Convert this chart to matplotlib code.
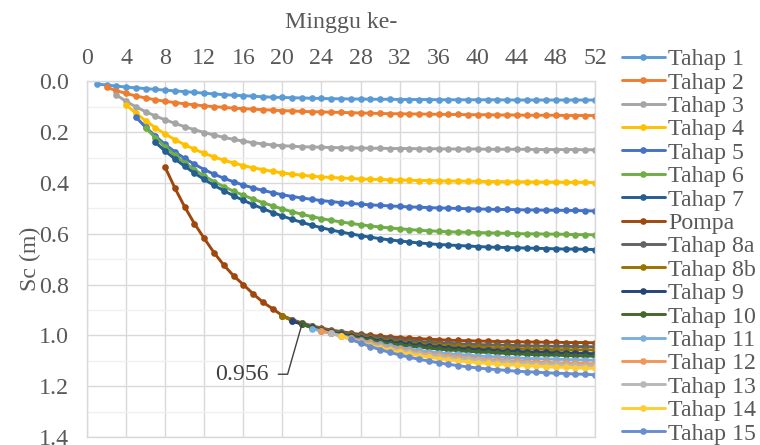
import matplotlib
matplotlib.use("Agg")
import matplotlib.pyplot as plt
import numpy as np

plt.rcParams['font.family'] = ['Liberation Serif', 'DejaVu Serif']

# Settlement Sc (m) per week for each stage; first value belongs to the start week
names = ["Tahap 1", "Tahap 2", "Tahap 3", "Tahap 4", "Tahap 5", "Tahap 6", "Tahap 7",
         "Pompa", "Tahap 8a", "Tahap 8b", "Tahap 9", "Tahap 10", "Tahap 11",
         "Tahap 12", "Tahap 13", "Tahap 14", "Tahap 15"]
start_weeks = [1, 2, 3, 4, 5, 6, 7, 8, 20, 20, 21, 22, 23, 24, 25, 26, 27]

tahap_1 = [0.010, 0.014, 0.018, 0.022, 0.025, 0.028, 0.031, 0.034, 0.037, 0.040,
           0.043, 0.046, 0.049, 0.052, 0.054, 0.056, 0.058, 0.060, 0.062, 0.063,
           0.064, 0.065, 0.066, 0.067, 0.068, 0.068, 0.069, 0.069, 0.070, 0.070,
           0.070, 0.071, 0.071, 0.071, 0.071, 0.072, 0.072, 0.072, 0.072, 0.072,
           0.072, 0.072, 0.073, 0.073, 0.073, 0.073, 0.073, 0.073, 0.073, 0.073,
           0.073, 0.073]
tahap_2 = [0.023, 0.036, 0.047, 0.057, 0.065, 0.072, 0.078, 0.083, 0.088, 0.092,
           0.096, 0.099, 0.102, 0.105, 0.107, 0.109, 0.111, 0.113, 0.115, 0.116,
           0.118, 0.119, 0.120, 0.121, 0.122, 0.123, 0.124, 0.125, 0.126, 0.127,
           0.127, 0.128, 0.128, 0.129, 0.129, 0.130, 0.130, 0.131, 0.131, 0.131,
           0.132, 0.132, 0.132, 0.133, 0.133, 0.133, 0.133, 0.134, 0.134, 0.134,
           0.134]
tahap_3 = [0.053, 0.078, 0.100, 0.119, 0.136, 0.151, 0.165, 0.178, 0.190, 0.201,
           0.211, 0.220, 0.228, 0.235, 0.241, 0.246, 0.250, 0.253, 0.255, 0.257,
           0.258, 0.259, 0.260, 0.261, 0.262, 0.262, 0.263, 0.263, 0.264, 0.264,
           0.264, 0.265, 0.265, 0.265, 0.266, 0.266, 0.266, 0.266, 0.267, 0.267,
           0.267, 0.267, 0.267, 0.268, 0.268, 0.268, 0.268, 0.268, 0.269, 0.269]
tahap_4 = [0.092, 0.125, 0.155, 0.182, 0.207, 0.229, 0.249, 0.267, 0.283, 0.297,
           0.310, 0.321, 0.331, 0.340, 0.347, 0.354, 0.360, 0.365, 0.369, 0.373,
           0.376, 0.378, 0.380, 0.382, 0.384, 0.385, 0.386, 0.387, 0.388, 0.389,
           0.390, 0.390, 0.391, 0.392, 0.392, 0.393, 0.393, 0.394, 0.394, 0.395,
           0.395, 0.395, 0.396, 0.396, 0.396, 0.397, 0.397, 0.397, 0.398]
tahap_5 = [0.140, 0.180, 0.215, 0.248, 0.277, 0.303, 0.326, 0.347, 0.365, 0.381,
           0.395, 0.408, 0.419, 0.429, 0.438, 0.446, 0.453, 0.459, 0.464, 0.469,
           0.473, 0.477, 0.480, 0.483, 0.486, 0.488, 0.490, 0.492, 0.494, 0.495,
           0.497, 0.498, 0.499, 0.500, 0.501, 0.502, 0.503, 0.504, 0.504, 0.505,
           0.506, 0.506, 0.507, 0.507, 0.508, 0.508, 0.509, 0.510]
tahap_6 = [0.183, 0.222, 0.257, 0.290, 0.320, 0.347, 0.372, 0.394, 0.414, 0.432,
           0.448, 0.463, 0.477, 0.490, 0.502, 0.513, 0.523, 0.532, 0.540, 0.547,
           0.553, 0.559, 0.564, 0.569, 0.573, 0.577, 0.580, 0.583, 0.586, 0.588,
           0.590, 0.592, 0.593, 0.594, 0.595, 0.596, 0.597, 0.598, 0.599, 0.600,
           0.600, 0.601, 0.601, 0.602, 0.603, 0.603, 0.604]
tahap_7 = [0.240, 0.274, 0.305, 0.334, 0.361, 0.386, 0.409, 0.430, 0.450, 0.468,
           0.485, 0.501, 0.516, 0.530, 0.543, 0.555, 0.566, 0.576, 0.585, 0.593,
           0.600, 0.607, 0.613, 0.619, 0.624, 0.628, 0.632, 0.636, 0.639, 0.642,
           0.644, 0.646, 0.648, 0.650, 0.652, 0.653, 0.654, 0.655, 0.656, 0.657,
           0.658, 0.659, 0.660, 0.660, 0.661, 0.662]
pompa = [0.338, 0.420, 0.494, 0.560, 0.618, 0.674, 0.723, 0.765, 0.800, 0.836,
         0.869, 0.895, 0.922, 0.938, 0.951, 0.962, 0.971, 0.979, 0.985, 0.991,
         0.996, 1.000, 1.003, 1.006, 1.009, 1.011, 1.013, 1.015, 1.017, 1.019,
         1.020, 1.021, 1.022, 1.023, 1.024, 1.025, 1.025, 1.026, 1.026, 1.027,
         1.027, 1.028, 1.028, 1.028, 1.029]
tahap_8a = [0.924, 0.940, 0.953, 0.964, 0.973, 0.981, 0.988, 0.994, 1.000, 1.005,
            1.010, 1.014, 1.018, 1.021, 1.024, 1.027, 1.029, 1.031, 1.033, 1.035,
            1.036, 1.037, 1.038, 1.039, 1.040, 1.041, 1.042, 1.042, 1.043, 1.043,
            1.044, 1.044, 1.045]
tahap_8b = [0.924, 0.942, 0.955, 0.966, 0.976, 0.985, 0.993, 1.000, 1.006, 1.012,
            1.017, 1.022, 1.026, 1.030, 1.033, 1.036, 1.039, 1.041, 1.043, 1.045,
            1.047, 1.048, 1.050, 1.051, 1.052, 1.053, 1.054, 1.055, 1.056, 1.056,
            1.057, 1.057, 1.058]
tahap_9 = [0.944, 0.956, 0.968, 0.978, 0.987, 0.995, 1.002, 1.009, 1.015, 1.021,
           1.026, 1.031, 1.035, 1.039, 1.043, 1.046, 1.049, 1.052, 1.054, 1.056,
           1.058, 1.060, 1.062, 1.063, 1.065, 1.066, 1.067, 1.068, 1.069, 1.070,
           1.071, 1.072]
tahap_10 = [0.956, 0.970, 0.981, 0.990, 0.998, 1.006, 1.013, 1.020, 1.026, 1.032,
            1.037, 1.042, 1.046, 1.050, 1.054, 1.057, 1.060, 1.063, 1.065, 1.067,
            1.069, 1.071, 1.073, 1.074, 1.076, 1.077, 1.078, 1.079, 1.080, 1.081,
            1.082]
tahap_11 = [0.973, 0.983, 0.992, 1.001, 1.010, 1.019, 1.027, 1.035, 1.042, 1.048,
            1.054, 1.059, 1.064, 1.068, 1.072, 1.075, 1.078, 1.081, 1.083, 1.085,
            1.087, 1.089, 1.091, 1.092, 1.093, 1.094, 1.095, 1.096, 1.097, 1.098]
tahap_12 = [0.983, 0.992, 1.002, 1.012, 1.022, 1.031, 1.040, 1.048, 1.055, 1.062,
            1.068, 1.073, 1.078, 1.082, 1.086, 1.089, 1.092, 1.095, 1.097, 1.099,
            1.101, 1.103, 1.105, 1.106, 1.108, 1.109, 1.110, 1.111, 1.112]
tahap_13 = [0.992, 1.003, 1.015, 1.026, 1.036, 1.045, 1.053, 1.060, 1.067, 1.073,
            1.078, 1.083, 1.087, 1.091, 1.094, 1.097, 1.100, 1.103, 1.105, 1.107,
            1.109, 1.111, 1.113, 1.114, 1.116, 1.117, 1.119, 1.120]
tahap_14 = [1.003, 1.016, 1.029, 1.040, 1.050, 1.059, 1.067, 1.074, 1.080, 1.086,
            1.091, 1.096, 1.100, 1.104, 1.107, 1.110, 1.113, 1.115, 1.117, 1.119,
            1.121, 1.123, 1.125, 1.126, 1.127, 1.129, 1.130]
tahap_15 = [1.016, 1.030, 1.044, 1.056, 1.067, 1.077, 1.086, 1.094, 1.101, 1.108,
            1.114, 1.119, 1.124, 1.128, 1.132, 1.135, 1.138, 1.141, 1.143, 1.145,
            1.147, 1.149, 1.150, 1.152, 1.153, 1.155]

series = [tahap_1, tahap_2, tahap_3, tahap_4, tahap_5, tahap_6, tahap_7, pompa,
          tahap_8a, tahap_8b, tahap_9, tahap_10, tahap_11, tahap_12, tahap_13,
          tahap_14, tahap_15]

colors = ["#5B9BD5", "#ED7D31", "#A5A5A5", "#FFC000", "#4472C4", "#70AD47",
          "#255E91", "#9E480E", "#636363", "#997300", "#264478", "#43682B",
          "#7CAFDD", "#F1975A", "#B7B7B7", "#FFCD33", "#698ED0"]

x_ticks = list(range(0, 53, 4))
y_ticks = [0.0, 0.2, 0.4, 0.6, 0.8, 1.0, 1.2, 1.4]
label_week = 22          # week whose Tahap 10 value is annotated
label_series = 11

text_color = "#595959"
fs = 17.2

fig = plt.figure(figsize=(7.6, 4.45), dpi=100)
ax = fig.add_axes([0.1145, 0.018, 0.6684, 0.7989])

for name, vals, sw, c in zip(names, series, start_weeks, colors):
    weeks = np.arange(sw, sw + len(vals))
    ax.plot(weeks, vals, color=c, lw=2.1, marker="o", ms=4.8,
            markeredgewidth=0, label=name, solid_capstyle="round")

ax.set_xlim(0, 52)
ax.set_ylim(1.4, 0.0)
ax.set_xticks(x_ticks)
ax.set_yticks(y_ticks)
ax.set_yticks(np.arange(0.1, 1.4, 0.2), minor=True)
ax.set_yticklabels([f"{v:.1f}" for v in y_ticks])
ax.xaxis.tick_top()
ax.xaxis.set_label_position("top")
ax.tick_params(axis="both", which="both", length=0, labelsize=fs,
               labelcolor=text_color)
ax.tick_params(axis="x", pad=9)
ax.tick_params(axis="y", pad=13)

ax.grid(True, which="major", color="#D9D9D9", lw=1.0)
ax.grid(True, which="minor", axis="y", color="#F0F0F0", lw=1.0)
ax.set_axisbelow(True)
for sp in ax.spines.values():
    sp.set_color("#D9D9D9")
    sp.set_linewidth(1.0)

ax.set_xlabel("Minggu ke-", fontsize=fs, color=text_color)
ax.xaxis.set_label_coords(0.5, 1.15)
ax.set_ylabel("Sc (m)", fontsize=fs, color=text_color)
ax.yaxis.set_label_coords(-0.091, 0.5)

# Leader label for Tahap 10 at its first week
lab_val = series[label_series][label_week - start_weeks[label_series]]
ax.annotate(f"{lab_val:.3f}", xy=(label_week, lab_val), xytext=(-24, -36),
            textcoords="offset points", ha="right", va="center",
            fontsize=fs, color="#404040",
            arrowprops=dict(arrowstyle="-", color="#404040", lw=1.0,
                            connectionstyle="angle,angleA=0,angleB=74,rad=0",
                            relpos=(1.0, 0.5), shrinkA=5, shrinkB=0))

leg = fig.legend(loc="upper left", bbox_to_anchor=(0.818, 0.891), frameon=False,
                 fontsize=fs, labelcolor=text_color, handlelength=1.8,
                 handletextpad=0.13, labelspacing=0.07, borderaxespad=0,
                 borderpad=0)

fig.savefig("out.png", dpi=100)
